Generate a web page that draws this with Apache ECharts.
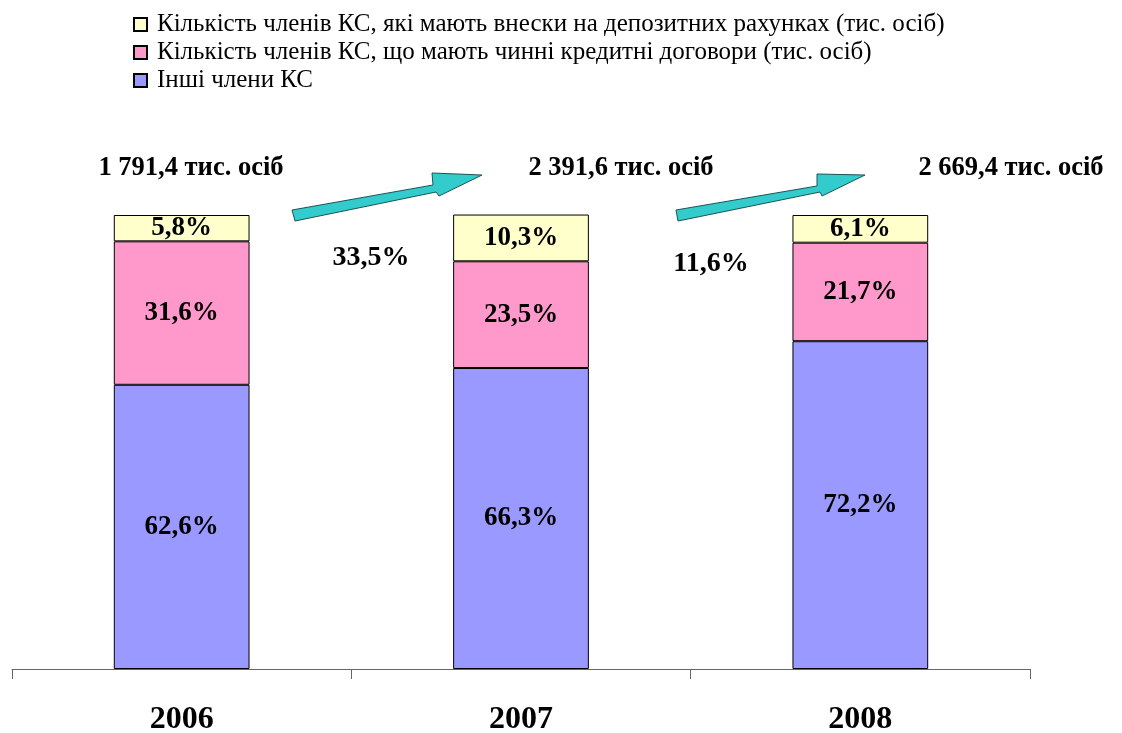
<!DOCTYPE html>
<html>
<head>
<meta charset="utf-8">
<script src="https://cdn.jsdelivr.net/npm/echarts@6/dist/echarts.min.js"></script>
<style>
  html, body { margin: 0; padding: 0; background: #fff; }
  #chart { width: 1122px; height: 733px; }
</style>
</head>
<body>
<div id="chart"></div>
<script>
const years = ['2006', '2007', '2008'];
const others = [62.6, 66.3, 72.2];
const credit = [31.6, 23.5, 21.7];
const deposit = [5.8, 10.3, 6.1];
const totals = ['1 791,4 тис. осіб', '2 391,6 тис. осіб', '2 669,4 тис. осіб'];
const growth = ['33,5%', '11,6%'];

const nameDeposit = 'Кількість членів КС, які мають внески на депозитних рахунках (тис. осіб)';
const nameCredit = 'Кількість членів КС, що мають чинні кредитні договори (тис. осіб)';
const nameOthers = 'Інші члени КС';

const serif = '"Liberation Serif", "Times New Roman", serif';

const fmt = p => p.value.toFixed(1).replace('.', ',') + '%';

const labelStyle = {
  show: true,
  position: 'inside',
  formatter: fmt,
  color: '#000',
  fontFamily: serif,
  fontWeight: 'bold',
  fontSize: 27
};

function bar(name, data, color) {
  return {
    name: name,
    type: 'bar',
    stack: 'all',
    data: data,
    barWidth: '40%',
    itemStyle: { color: color, borderColor: '#000', borderWidth: 1 },
    label: labelStyle,
    emphasis: { disabled: true }
  };
}

function arrow(pts) {
  return {
    type: 'polygon',
    shape: { points: pts },
    style: { fill: '#33CCCC', stroke: '#1a5555', lineWidth: 1 }
  };
}

function text(x, y, s, size) {
  return {
    type: 'text',
    x: x, y: y,
    style: {
      text: s, fill: '#000',
      font: 'bold ' + size + 'px ' + serif,
      textAlign: 'center', textVerticalAlign: 'middle'
    }
  };
}

const option = {
  animation: false,
  backgroundColor: '#fff',
  legend: {
    orient: 'vertical',
    left: 128,
    top: 7,
    icon: 'rect',
    itemWidth: 13,
    itemHeight: 13,
    itemGap: 3,
    data: [nameDeposit, nameCredit, nameOthers],
    textStyle: { fontFamily: serif, fontSize: 25, color: '#000', padding: [0, 0, 0, 5] }
  },
  grid: { left: 12, right: 92, top: 215, bottom: 64, containLabel: false, outerBoundsMode: 'none' },
  xAxis: {
    type: 'category',
    data: years,
    axisLine: { lineStyle: { color: '#666', width: 1 } },
    axisTick: { show: true, length: 10, lineStyle: { color: '#666' } },
    axisLabel: {
      margin: 35,
      color: '#000',
      fontFamily: serif,
      fontWeight: 'bold',
      fontSize: 32
    }
  },
  yAxis: {
    type: 'value',
    min: 0,
    max: 100,
    show: false
  },
  series: [
    bar(nameOthers, others, '#9999FF'),
    bar(nameCredit, credit, '#FF99CC'),
    bar(nameDeposit, deposit, '#FFFFCC')
  ],
  graphic: [
    arrow([[292, 210], [433, 185], [432, 173], [482, 175], [439, 196], [436, 192], [295, 221]]),
    arrow([[676, 210], [817, 186], [817, 174], [865, 175], [822, 196], [820, 192], [678, 221]]),
    text(191, 168, totals[0], 26.5),
    text(621, 168, totals[1], 26.5),
    text(1011, 168, totals[2], 26.5),
    text(371, 258, growth[0], 28),
    text(711, 264, growth[1], 28)
  ]
};

const chart = echarts.init(document.getElementById('chart'));
chart.setOption(option);
</script>
</body>
</html>
